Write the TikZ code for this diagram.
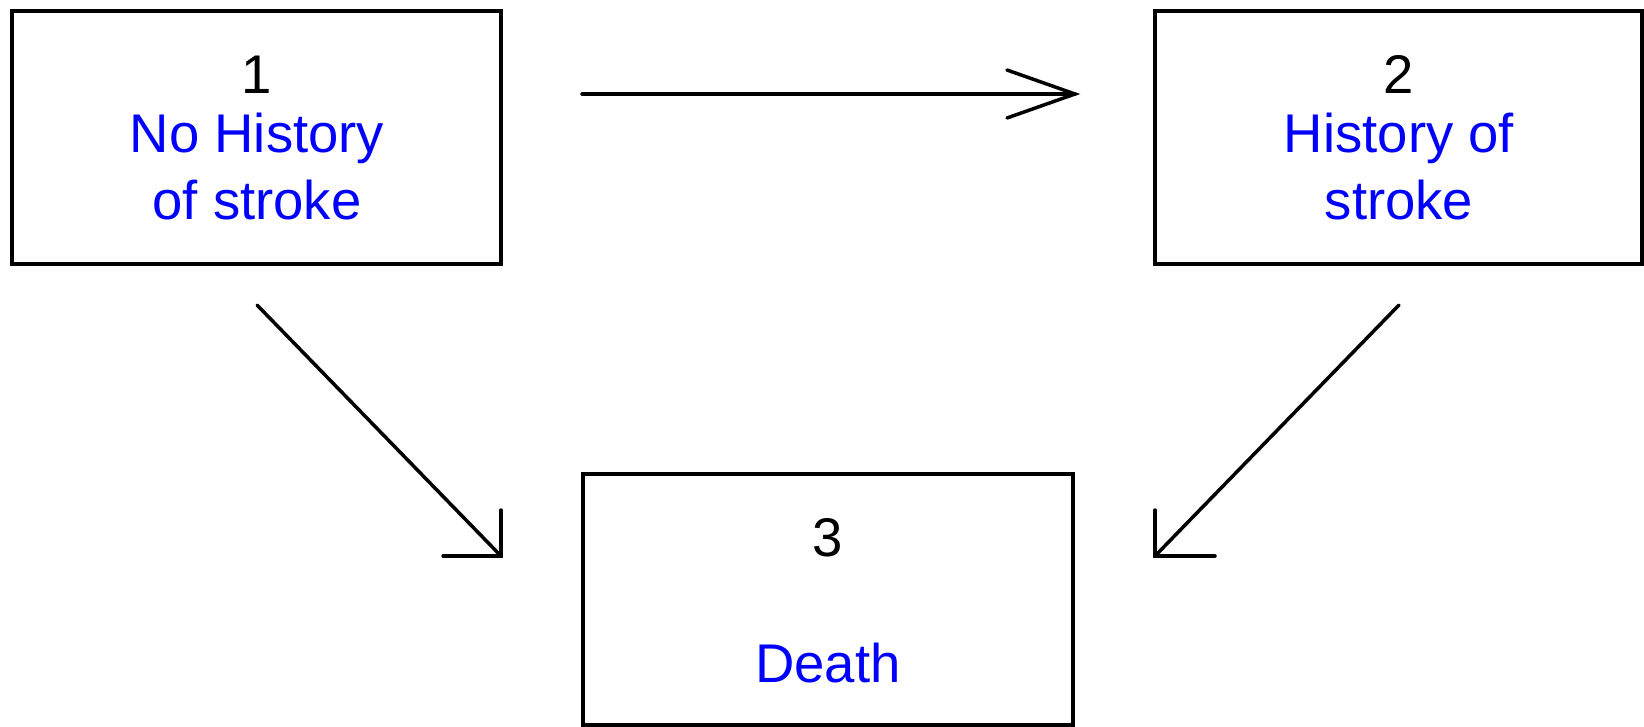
\documentclass[tikz,border=0pt]{standalone}
\usepackage{fontspec}
\setmainfont{Liberation Sans}
\begin{document}
\begin{tikzpicture}[x=1pt,y=-1pt,
  statebox/.style={draw=black, line width=4pt, rectangle, inner sep=0pt},
  numtxt/.style={anchor=base, inner sep=0pt, text=black, font=\fontsize{54.5}{60}\selectfont},
  nametxt/.style={anchor=base, inner sep=0pt, text=blue, font=\fontsize{54.5}{60}\selectfont},
  conn/.style={draw=black, line width=3.5pt, line cap=round, line join=miter}]
\useasboundingbox (0,0) rectangle (1644,726);

% states
\node[statebox, minimum width=489pt, minimum height=252.5pt] (s1) at (256.5,137.25) {};
\node[statebox, minimum width=487pt, minimum height=252.5pt] (s2) at (1398.5,137.25) {};
\node[statebox, minimum width=490pt, minimum height=251pt] (s3) at (828,599.5) {};

% labels
\node[numtxt] (n1) at (257,93) {1};
\node[nametxt] (t1a) at (257,152) {No History};
\node[nametxt] (t1b) at (257,219) {of stroke};
\node[numtxt] (n2) at (1399,93) {2};
\node[nametxt] (t2a) at (1399,152) {History of};
\node[nametxt] (t2b) at (1399,219) {stroke};
\node[numtxt] (n3) at (828,556) {3};
\node[nametxt] (t3) at (828,682) {Death};

% transition end points
\coordinate (a12s) at (582,94);
\coordinate (a12e) at (1075,94);
\coordinate (a13s) at (257,305);
\coordinate (a13e) at (501,556);
\coordinate (a23s) at (1399,305);
\coordinate (a23e) at (1155,556);

% transitions with open heads
\draw[conn] (a12s) -- (a12e);
\draw[conn] ([shift={(-68,-24)}]a12e) -- (a12e) -- ++(-68,24);
\draw[conn] (a13s) -- (a13e);
\draw[conn] ([shift={(0,-46)}]a13e) -- (a13e) -- ++(-58,0);
\draw[conn] (a23s) -- (a23e);
\draw[conn] ([shift={(0,-46)}]a23e) -- (a23e) -- ++(60,0);
\end{tikzpicture}
\end{document}
